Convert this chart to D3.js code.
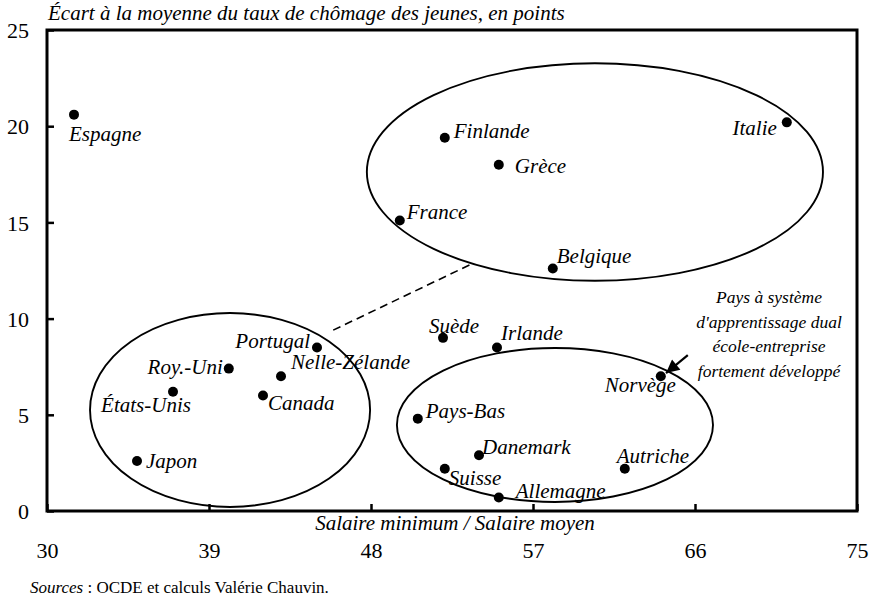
<!DOCTYPE html>
<html>
<head>
<meta charset="utf-8">
<script src="https://cdn.jsdelivr.net/npm/d3@7/dist/d3.min.js"></script>
<style>
  body { margin: 0; background: #fff; }
  svg { display: block; font-family: "Liberation Serif", "Times New Roman", serif; }
</style>
</head>
<body>
<svg id="chart" width="873" height="601"></svg>
<script>
// Pays : ratio salaire minimum / salaire moyen, écart du taux de chômage des jeunes
const countries = ["Espagne", "Finlande", "Grèce", "Italie", "France", "Belgique",
  "Suède", "Irlande", "Norvège", "Pays-Bas", "Danemark", "Suisse", "Autriche", "Allemagne",
  "Portugal", "Roy.-Uni", "Nelle-Zélande", "États-Unis", "Canada", "Japon"];
const minWageRatio = [31.5, 52.1, 55.1, 71.1, 49.6, 58.1,
  52.0, 55.0, 64.1, 50.6, 54.0, 52.1, 62.1, 55.1,
  45.0, 40.1, 43.0, 37.0, 42.0, 35.0];
const youthGap = [20.6, 19.4, 18.0, 20.2, 15.1, 12.6,
  9.0, 8.5, 7.0, 4.8, 2.9, 2.2, 2.2, 0.7,
  8.5, 7.4, 7.0, 6.2, 6.0, 2.6];
const xTicks = [30, 39, 48, 57, 66, 75];
const yTicks = [0, 5, 10, 15, 20, 25];

// Groupes entourés (centre et demi-axes en unités des données)
const groupNames = ["sud", "anglo", "dual"];
const groupCx = [60.44, 40.17, 58.22];
const groupCy = [17.62, 5.25, 4.47];
const groupRx = [12.67, 7.78, 8.78];
const groupRy = [5.65, 5.04, 4.0];

// Position de chaque étiquette par rapport à son point : [dx, dy, ancrage]
const labelPlacement = {
  "Espagne": [-5, 26, "start"], "Finlande": [9, 0, "start"], "Grèce": [16, 8, "start"],
  "Italie": [-10, 13, "end"], "France": [7, -1, "start"], "Belgique": [4, -6, "start"],
  "Suède": [-14, -5, "start"], "Irlande": [4, -7, "start"], "Norvège": [-56, 16, "start"],
  "Pays-Bas": [8, -1, "start"], "Danemark": [3, -1, "start"], "Suisse": [4, 16, "start"],
  "Autriche": [-8, -6, "start"], "Allemagne": [17, 0, "start"], "Portugal": [-7, 1, "end"],
  "Roy.-Uni": [-6, 5, "end"], "Nelle-Zélande": [10, -7, "start"], "États-Unis": [-27, 20, "middle"],
  "Canada": [5, 14, "start"], "Japon": [9, 7, "start"]
};

const svg = d3.select("#chart");
const plotLeft = 47, plotRight = 857, plotTop = 30, plotBottom = 511;

const x = d3.scaleLinear().domain([30, 75]).range([plotLeft, plotRight]);
const y = d3.scaleLinear().domain([0, 25]).range([plotBottom, plotTop]);

// Cadre du graphique
svg.append("rect")
  .attr("x", plotLeft).attr("y", plotTop)
  .attr("width", plotRight - plotLeft).attr("height", plotBottom - plotTop)
  .attr("fill", "none").attr("stroke", "#000").attr("stroke-width", 3);

// Axe horizontal : graduations vers l'intérieur
const xAxis = svg.append("g")
  .attr("transform", `translate(0,${plotBottom})`)
  .call(d3.axisBottom(x).tickValues(xTicks).tickSize(-7).tickSizeOuter(0).tickFormat(d3.format("d")));
xAxis.select(".domain").remove();
xAxis.selectAll(".tick line").attr("stroke", "#000").attr("stroke-width", 2.5);
xAxis.selectAll(".tick text")
  .attr("y", 0).attr("dy", 47)
  .attr("font-family", "Liberation Serif").attr("font-size", 22).attr("fill", "#000");

// Axe vertical
const yAxis = svg.append("g")
  .attr("transform", `translate(${plotLeft},0)`)
  .call(d3.axisLeft(y).tickValues(yTicks).tickSize(-7).tickSizeOuter(0).tickFormat(d3.format("d")));
yAxis.select(".domain").remove();
yAxis.selectAll(".tick line").attr("stroke", "#000").attr("stroke-width", 2.5);
yAxis.selectAll(".tick text")
  .attr("x", -18).attr("dy", "0.35em")
  .attr("font-family", "Liberation Serif").attr("font-size", 22).attr("fill", "#000");

// Titres des axes
svg.append("text")
  .attr("x", 48).attr("y", 20)
  .attr("font-style", "italic").attr("font-size", 21)
  .text("Écart à la moyenne du taux de chômage des jeunes, en points");
svg.append("text")
  .attr("x", 455).attr("y", 530)
  .attr("text-anchor", "middle")
  .attr("font-style", "italic").attr("font-size", 21)
  .text("Salaire minimum / Salaire moyen");

// Ellipses des groupes
svg.append("g").selectAll("ellipse")
  .data(groupNames)
  .join("ellipse")
  .attr("cx", (d, i) => x(groupCx[i]))
  .attr("cy", (d, i) => y(groupCy[i]))
  .attr("rx", (d, i) => x(groupCx[i] + groupRx[i]) - x(groupCx[i]))
  .attr("ry", (d, i) => y(groupCy[i]) - y(groupCy[i] + groupRy[i]))
  .attr("fill", "none").attr("stroke", "#000").attr("stroke-width", 1.9);

// Trait pointillé reliant les deux groupes
const link = { x1: 45.9, y1: 9.4, x2: 53.5, y2: 12.8 };
svg.append("line")
  .attr("x1", x(link.x1)).attr("y1", y(link.y1))
  .attr("x2", x(link.x2)).attr("y2", y(link.y2))
  .attr("stroke", "#000").attr("stroke-width", 1.6)
  .attr("stroke-dasharray", "8,5");

// Points
const data = countries.map((c, i) => ({ name: c, x: minWageRatio[i], y: youthGap[i] }));
svg.append("g").selectAll("circle")
  .data(data)
  .join("circle")
  .attr("cx", d => x(d.x)).attr("cy", d => y(d.y))
  .attr("r", 5).attr("fill", "#000");

// Étiquettes des pays
svg.append("g").selectAll("text")
  .data(data)
  .join("text")
  .attr("x", d => x(d.x) + labelPlacement[d.name][0])
  .attr("y", d => y(d.y) + labelPlacement[d.name][1])
  .attr("text-anchor", d => labelPlacement[d.name][2])
  .attr("font-style", "italic").attr("font-size", 21)
  .text(d => d.name);

// Annotation sur les pays à apprentissage dual
const noteLines = ["Pays à système", "d'apprentissage dual", "école-entreprise", "fortement développé"];
svg.append("g").selectAll("text")
  .data(noteLines)
  .join("text")
  .attr("x", 769)
  .attr("y", (d, i) => 303 + i * 24.5)
  .attr("text-anchor", "middle")
  .attr("font-style", "italic").attr("font-size", 17.5)
  .text(d => d);

svg.append("defs").append("marker")
  .attr("id", "arrow")
  .attr("viewBox", "0 0 10 10")
  .attr("refX", 10).attr("refY", 5)
  .attr("markerWidth", 6.5).attr("markerHeight", 6)
  .attr("markerUnits", "strokeWidth")
  .attr("orient", "auto")
  .append("path").attr("d", "M0,0 L10,5 L0,10 Z").attr("fill", "#000");

const arrow = { x1: 65.6, y1: 8.1, x2: 64.39, y2: 7.17 };
svg.append("line")
  .attr("x1", x(arrow.x1)).attr("y1", y(arrow.y1))
  .attr("x2", x(arrow.x2)).attr("y2", y(arrow.y2))
  .attr("stroke", "#000").attr("stroke-width", 2.2)
  .attr("marker-end", "url(#arrow)");

// Source
const src = svg.append("text").attr("x", 30).attr("y", 593).attr("font-size", 17);
src.append("tspan").attr("font-style", "italic").text("Sources");
src.append("tspan").text(" : OCDE et calculs Valérie Chauvin.");
</script>
</body>
</html>
